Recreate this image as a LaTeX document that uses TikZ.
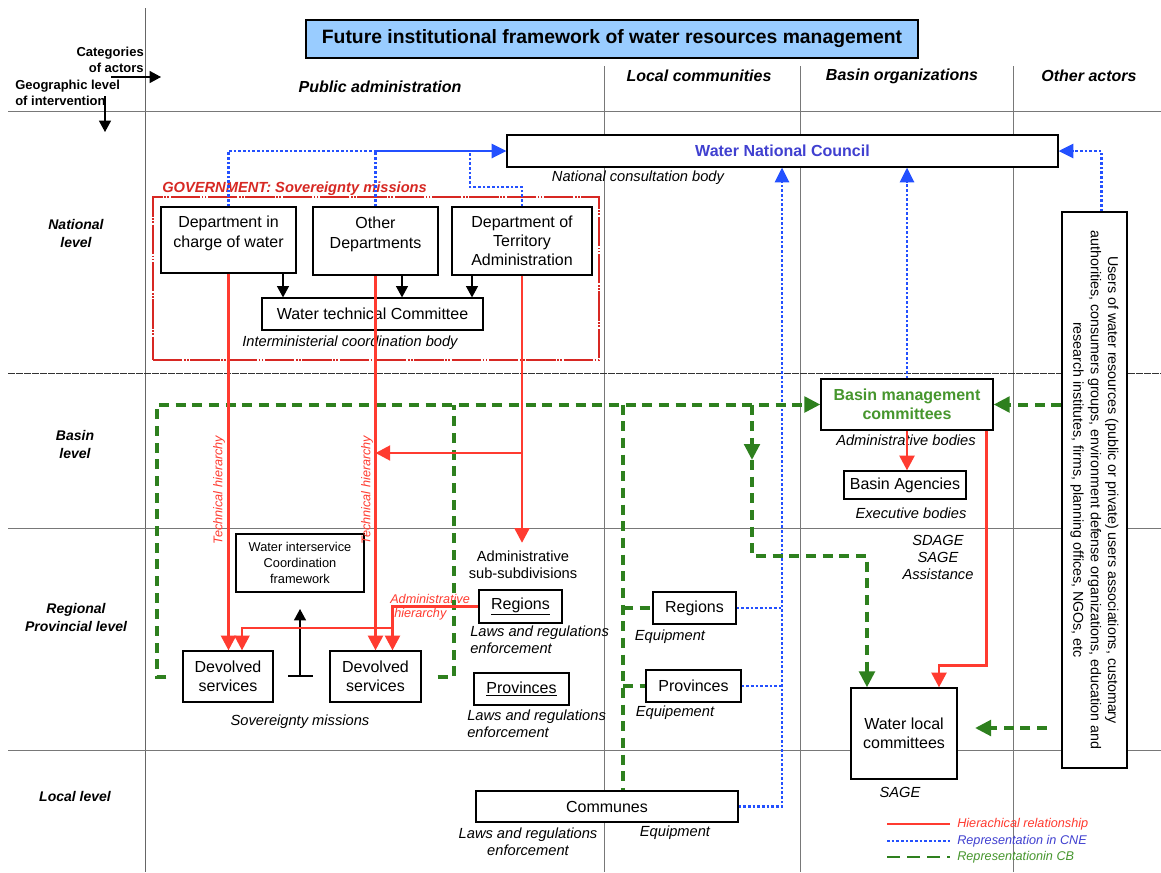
\documentclass[tikz,border=0pt]{standalone}
\usepackage{fontspec}
\setmainfont{Liberation Sans}
\usetikzlibrary{arrows.meta,fit,calc}
\definecolor{redl}{RGB}{255,59,48}
\definecolor{redb}{RGB}{215,40,35}
\definecolor{bluel}{RGB}{35,80,255}
\definecolor{bluet}{RGB}{64,64,208}
\definecolor{greenl}{RGB}{46,128,30}
\definecolor{greent}{RGB}{70,150,45}
\definecolor{titlebg}{RGB}{153,204,255}
\definecolor{gridc}{RGB}{120,120,120}
\begin{document}
\begin{tikzpicture}[x=0.75pt,y=-0.75pt,
  box/.style={draw=black, fill=white, line width=0.9pt, inner sep=0pt},
  btxt/.style={inner sep=0pt, align=center, font=\fontsize{12}{14.4}\selectfont},
  lab/.style={inner sep=0pt, align=center, font=\fontsize{11}{12.6}\selectfont\itshape},
  hdr/.style={inner sep=0pt, font=\fontsize{12}{14}\selectfont\bfseries\itshape},
  rowl/.style={inner sep=0pt, align=center, font=\fontsize{10.5}{13.5}\selectfont\bfseries\itshape},
  redt/.style={inner sep=0pt, text=redl, font=\fontsize{9.5}{10.5}\selectfont\itshape},
  legt/.style={inner sep=0pt, anchor=west, font=\fontsize{9.5}{11}\selectfont\itshape},
  gridl/.style={draw=gridc, line width=0.6pt},
  redarrow/.style={draw=redl, line width=2.2pt, -{Triangle[length=11pt,width=11pt]}},
  bluedot/.style={draw=bluel, line width=2pt, dash pattern=on 2pt off 1.5pt},
  blueline/.style={draw=bluel, line width=2pt},
  bluetip/.style={-{Triangle[length=11pt,width=10.5pt]}},
  gdash/.style={draw=greenl, line width=3pt, dash pattern=on 7.5pt off 5pt},
  gtip/.style={-{Triangle[length=12pt,width=11.5pt]}},
  blk/.style={draw=black, line width=0.9pt, -{Triangle[length=8.5pt,width=9pt]}}
]
\useasboundingbox (0,0) rectangle (1161,872);
\fill[white] (0,0) rectangle (1161,872);

% ---------- grid ----------
\draw[gridl, draw=black!60] (145,8) -- (145,872);
\foreach \xx in {604,800,1013} \draw[gridl] (\xx,66) -- (\xx,872);
\foreach \yy in {111,528,750} \draw[gridl] (8,\yy) -- (1161,\yy);
\draw[gridl, draw=black!80, dash pattern=on 5pt off 1pt] (8,373) -- (1161,373);

% ---------- headers ----------
\node[box, line width=1.8pt, fill=titlebg, fit={(306,20)(918,58)}, label={[btxt, font=\fontsize{14.5}{17}\selectfont\bfseries]center:{Future institutional framework of water resources management}}] (title) {};
\node[hdr] (hpa) at (380,87) {Public administration};
\node[hdr] (hlc) at (699,76) {Local communities};
\node[hdr] (hbo) at (902,76) {Basin organizations};
\node[hdr] (hoa) at (1089,76) {Other actors};

\node[inner sep=0pt, anchor=east, align=right, font=\fontsize{9.75}{12}\selectfont\bfseries] (cat) at (144,60) {Categories\\of actors};
\node[inner sep=0pt, anchor=west, align=left, font=\fontsize{9.75}{11.5}\selectfont\bfseries] (geo) at (15,93) {Geographic level\\of intervention};
\coordinate (ca1) at (111,77);
\coordinate (ca2) at (161,77);
\coordinate (ga1) at (105,96);
\coordinate (ga2) at (105,132);
\draw[blk] (ca1) -- (ca2);
\draw[blk] (ga1) -- (ga2);

% ---------- row labels ----------
\node[rowl] (rnat) at (76,233) {National\\level};
\node[rowl] (rbas) at (75,444) {Basin\\level};
\node[rowl] (rreg) at (76,617) {Regional\\Provincial level};
\node[rowl] (rloc) at (75,796) {Local level};

% ---------- government ----------
\node[inner sep=0pt, draw=redb, line width=2.2pt, dash pattern=on 22pt off 1.2pt on 1.2pt off 1.2pt on 1.2pt off 1.2pt, fit={(153,197)(599,360)}] (gov) {};
\node[inner sep=0pt, anchor=west, text=redb, font=\fontsize{11}{13}\selectfont\bfseries\itshape] (govl) at (162,189) {GOVERNMENT: Sovereignty missions};

\node[box, fit={(161,207)(296,273)}, label={[btxt, yshift=5pt]center:{Department in\\charge of water}}] (dw) {};
\node[box, fit={(313,207)(438,275)}, label={[btxt, yshift=5pt]center:{Other\\Departments}}] (od) {};
\node[box, fit={(452,207)(592,275)}, label={[btxt]center:{Department of\\Territory\\Administration}}] (dt) {};
\node[box, fit={(262,298)(483,330)}, label={[btxt]center:{Water technical Committee}}] (wtc) {};
\node[lab] (wtcl) at (350,343) {Interministerial coordination body};

% ---------- national council ----------
\node[box, fit={(507,135)(1058,167)}, label={[btxt, text=bluet, font=\fontsize{12}{14.4}\selectfont\bfseries]center:{Water National Council}}] (wnc) {};
\node[lab] (wncl) at (638,178) {National consultation body};

% ---------- basin ----------
\node[box, fit={(821,379)(993,430)}, label={[btxt, text=greent, font=\fontsize{12}{14.4}\selectfont\bfseries]center:{Basin management\\committees}}] (bmc) {};
\node[lab] (bmcl) at (906,440) {Administrative bodies};
\node[box, fit={(844,471)(966,499)}, label={[btxt]center:{Basin Agencies}}] (ba) {};
\node[lab] (bal) at (911,513) {Executive bodies};
\node[lab, font=\fontsize{11}{12.75}\selectfont\itshape] (sdage) at (938,557) {SDAGE\\SAGE\\Assistance};
\node[box, fit={(851,688)(957,779)}, label={[btxt]center:{Water local\\committees}}] (wlc) {};
\node[lab] (wlcl) at (900,792) {SAGE};

% ---------- other actors ----------
\node[box, fit={(1062,212)(1127,768)}] (ur) {};
\node[rotate=-90, inner sep=0pt, align=center, font=\fontsize{10.7}{13}\selectfont] (urt) at (ur.center) {Users of water resources (public or private) users associations, customary\\authorities, consumers groups, environment defense organizations, education and\\research institutes, firms, planning offices, NGOs, etc};

% ---------- regional public admin ----------
\node[box, fit={(236,534)(364,592)}, label={[btxt, font=\fontsize{9.6}{12}\selectfont]center:{Water interservice\\Coordination\\framework}}] (iwc) {};
\node[box, fit={(183,651)(273,702)}, label={[btxt]center:{Devolved\\services}}] (dv1) {};
\node[box, fit={(330,651)(421,702)}, label={[btxt]center:{Devolved\\services}}] (dv2) {};
\node[lab] (sovl) at (300,722) {Sovereignty missions};
\node[inner ysep=6pt, inner xsep=0pt, align=center, font=\fontsize{11}{12.75}\selectfont] (adm) at (523,565) {Administrative\\sub-subdivisions};
\node[box, fit={(479,590)(562,623)}, label={[btxt]center:{\underline{Regions}}}] (rg1) {};
\node[lab, anchor=west, align=left] (rg1l) at (470,640) {Laws and regulations\\enforcement};
\node[box, fit={(474,673)(569,705)}, label={[btxt]center:{\underline{Provinces}}}] (pv1) {};
\node[lab, anchor=west, align=left] (pv1l) at (467,724) {Laws and regulations\\enforcement};

\node[redt, rotate=90] (th1) at (219,490) {Technical hierarchy};
\node[redt, rotate=90] (th2) at (367,490) {Technical hierarchy};
\node[redt, anchor=west, align=left] (ahl) at (390,607) {Administrative\\\hspace{3pt}hierarchy};

% ---------- local communities ----------
\node[box, fit={(653,592)(736,624)}, label={[btxt]center:{Regions}}] (rg2) {};
\node[lab] (rg2l) at (670,637) {Equipment};
\node[box, fit={(646,670)(741,702)}, label={[btxt]center:{Provinces}}] (pv2) {};
\node[lab] (pv2l) at (675,713) {Equipement};
\node[box, fit={(476,791)(738,822)}, label={[btxt]center:{Communes}}] (cm) {};
\node[lab] (cml) at (528,842) {Laws and regulations\\enforcement};
\node[lab] (cml2) at (675,833) {Equipment};

% ---------- helper coordinates ----------
\coordinate (bx) at (782,0);
\coordinate (bt) at (470,187);
\coordinate (k1) at (283,0);
\coordinate (k2) at (402,0);
\coordinate (k3) at (472,0);
\coordinate (rb) at (0,453);
\coordinate (ah) at (393,628);
\coordinate (gL) at (157,0);
\coordinate (gR) at (454,0);
\coordinate (gC) at (623,0);
\coordinate (gM) at (752,0);
\coordinate (gmid) at (752,460);
\coordinate (gcorner) at (867,556);
\coordinate (gs) at (1047,728);
\coordinate (ge) at (975,728);
\coordinate (tbl) at (288,676);
\coordinate (tbr) at (313,676);
\coordinate (tbm) at (300,676);
\coordinate (tbt) at (300,609);

% ---------- black arrows ----------
\draw[blk] (dw.south -| k1) -- (wtc.north -| k1);
\draw[blk] (od.south -| k2) -- (wtc.north -| k2);
\draw[blk] (dt.south -| k3) -- (wtc.north -| k3);
\draw[black, line width=0.9pt] (tbl) -- (tbr);
\draw[blk] (tbm) -- (tbt);

% ---------- blue (representation in CNE) ----------
\draw[bluedot] (dw.north) |- (od.north |- wnc.west);
\draw[bluedot] (od.north) -- (od.north |- wnc.west);
\draw[blueline, bluetip] (od.north |- wnc.west) -- (wnc.west);
\draw[bluedot] (dt.north) |- (bt) -- (bt |- wnc.west);
\draw[bluedot, bluetip] (bmc.north) -- (bmc.north |- wnc.south);
\draw[bluedot, bluetip] ($(ur.north)+(7,0)$) |- (wnc.east);
\draw[bluedot] (rg2.east) -- (rg2.east -| bx);
\draw[bluedot] (pv2.east) -- (pv2.east -| bx);
\draw[bluedot, bluetip] (cm.east) -| (wnc.south -| bx);

% ---------- green (representation in CB) ----------
\draw[gdash, gtip] ($(dv1.west)+(-16,0)$) -- (dv1.west -| gL) |- (bmc.west);
\draw[gdash] ($(dv2.east)+(16,0)$) -- (dv2.east -| gR) -- (bmc.west -| gR);
\draw[gdash] (bmc.west -| gC) -- (cm.north -| gC);
\draw[gdash] (rg2.west -| gC) -- (rg2.west);
\draw[gdash] (pv2.west -| gC) -- (pv2.west);
\draw[gdash, gtip] (bmc.west -| gM) -- (gmid);
\draw[gdash, gtip] (gmid) |- (gcorner) -- (gcorner |- wlc.north);
\draw[gdash, gtip] (ur.west |- bmc.east) -- (bmc.east);
\draw[gdash, gtip] (gs) -- (ge);

% ---------- red (hierarchical) ----------
\draw[redarrow] (dw.south) -- (dw.south |- dv1.north);
\draw[redarrow] (od.south) -- (od.south |- dv2.north);
\draw[redarrow] (dt.south) -- (dt.south |- adm.north);
\draw[redarrow] (dt.south |- rb) -- (od.south |- rb);
\draw[redarrow] (rg1.west) -| ($(dv2.north)+(17,0)$);
\draw[redarrow] (ah) -| ($(dv1.north)+(14,0)$);
\draw[redarrow] (bmc.south) -- (bmc.south |- ba.north);
\draw[redarrow] ($(bmc.south east)+(-7,0)$) -- ++(0,235) -| ($(wlc.north)+(35,0)$);

% ---------- legend ----------
\coordinate (l1a) at (887,824);
\coordinate (l1b) at (950,824);
\coordinate (l2a) at (887,841);
\coordinate (l2b) at (950,841);
\coordinate (l3a) at (887,857);
\coordinate (l3b) at (950,857);
\draw[redl, line width=1.6pt] (l1a) -- (l1b);
\draw[bluedot, line width=1.6pt] (l2a) -- (l2b);
\draw[gdash, line width=2pt, dash pattern=on 10pt off 5pt] (l3a) -- (l3b);
\node[legt, text=redl] (lg1) at (957,824) {Hierachical relationship};
\node[legt, text=bluet] (lg2) at (957,841) {Representation in CNE};
\node[legt, text=greent] (lg3) at (957,857) {Representationin CB};
\end{tikzpicture}
\end{document}
